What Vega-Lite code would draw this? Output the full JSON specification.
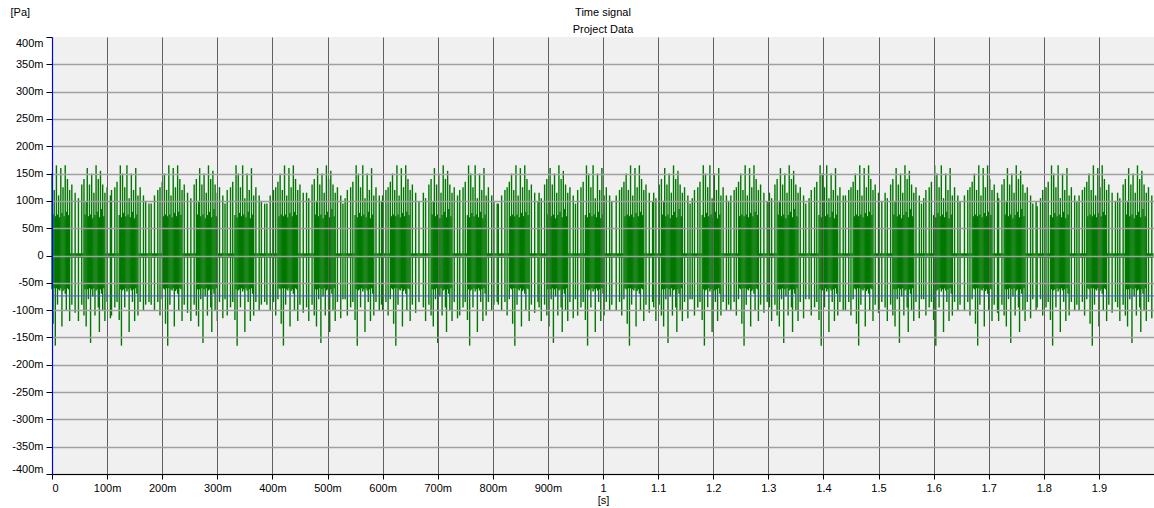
{
  "$schema": "https://vega.github.io/schema/vega-lite/v6.json",
  "width": 1102,
  "height": 437,
  "autosize": {"type": "none"},
  "padding": {"left": 52, "top": 37, "right": 0, "bottom": 34},
  "background": "#ffffff",
  "config": {
    "view": {"fill": "#f0f0f0", "stroke": null},
    "font": "Liberation Sans Narrow, Liberation Sans, sans-serif"
  },
  "title": {
    "text": ["Time signal", "Project Data"],
    "anchor": "middle",
    "frame": "group",
    "fontSize": 11,
    "fontWeight": "normal",
    "color": "#000000",
    "lineHeight": 17,
    "baseline": "bottom",
    "offset": -40
  },
  "resolve": {"axis": {"y": "independent"}},
  "data": {"values": [
{"t":0,"lo":-62,"hi":150},{"t":2,"lo":-125,"hi":75},{"t":4,"lo":-60,"hi":120},{"t":6,"lo":-165,"hi":72},{"t":8,"lo":-60,"hi":165},{"t":10,"lo":-90,"hi":75},{"t":12,"lo":-62,"hi":110},{"t":14,"lo":-64,"hi":70},{"t":16,"lo":-60,"hi":160},{"t":18,"lo":-130,"hi":78},{"t":20,"lo":-65,"hi":125},{"t":22,"lo":-62,"hi":72},{"t":24,"lo":-70,"hi":165},{"t":26,"lo":-100,"hi":80},{"t":28,"lo":-60,"hi":140},{"t":30,"lo":-62,"hi":74},{"t":32,"lo":-120,"hi":120},{"t":34,"lo":-4,"hi":4},{"t":36,"lo":-90,"hi":130},{"t":38,"lo":-4,"hi":4},{"t":40,"lo":-4,"hi":4},{"t":42,"lo":-105,"hi":115},{"t":44,"lo":-4,"hi":4},
{"t":46,"lo":-4,"hi":4},{"t":48,"lo":-120,"hi":105},{"t":50,"lo":-4,"hi":4},{"t":52,"lo":-4,"hi":4},{"t":54,"lo":-90,"hi":130},{"t":56,"lo":-4,"hi":4},{"t":58,"lo":-110,"hi":140},{"t":60,"lo":-62,"hi":75},{"t":62,"lo":-130,"hi":100},{"t":64,"lo":-62,"hi":160},{"t":66,"lo":-80,"hi":72},{"t":68,"lo":-60,"hi":130},{"t":70,"lo":-160,"hi":75},{"t":72,"lo":-62,"hi":150},{"t":74,"lo":-75,"hi":68},{"t":76,"lo":-60,"hi":115},{"t":78,"lo":-110,"hi":74},{"t":80,"lo":-64,"hi":165},{"t":82,"lo":-62,"hi":80},{"t":84,"lo":-95,"hi":140},{"t":86,"lo":-140,"hi":70},{"t":88,"lo":-62,"hi":155},{"t":90,"lo":-70,"hi":85},{"t":92,"lo":-100,"hi":130},{"t":94,"lo":-60,"hi":72},{"t":96,"lo":-120,"hi":115},{"t":98,"lo":-4,"hi":4},{"t":100,"lo":-85,"hi":125},{"t":102,"lo":-4,"hi":4},{"t":104,"lo":-4,"hi":4},{"t":106,"lo":-115,"hi":110},
{"t":108,"lo":-110,"hi":120},{"t":110,"lo":-4,"hi":4},{"t":112,"lo":-4,"hi":4},{"t":114,"lo":-95,"hi":125},{"t":116,"lo":-4,"hi":4},{"t":118,"lo":-85,"hi":135},{"t":120,"lo":-4,"hi":4},{"t":122,"lo":-118,"hi":74},{"t":124,"lo":-62,"hi":165},{"t":126,"lo":-165,"hi":70},{"t":128,"lo":-64,"hi":150},{"t":130,"lo":-62,"hi":78},{"t":132,"lo":-95,"hi":125},{"t":134,"lo":-60,"hi":72},{"t":136,"lo":-66,"hi":165},{"t":138,"lo":-62,"hi":75},{"t":140,"lo":-140,"hi":105},{"t":142,"lo":-60,"hi":70},{"t":144,"lo":-64,"hi":150},{"t":146,"lo":-85,"hi":80},{"t":148,"lo":-62,"hi":120},{"t":150,"lo":-120,"hi":68},{"t":152,"lo":-60,"hi":160},{"t":154,"lo":-70,"hi":75},{"t":156,"lo":-110,"hi":110},{"t":158,"lo":-4,"hi":4},{"t":160,"lo":-85,"hi":125},{"t":162,"lo":-4,"hi":4},{"t":164,"lo":-4,"hi":4},{"t":166,"lo":-100,"hi":110},{"t":168,"lo":-4,"hi":4},{"t":170,"lo":-90,"hi":100},{"t":172,"lo":-4,"hi":4},{"t":174,"lo":-4,"hi":4},{"t":176,"lo":-85,"hi":95},
{"t":178,"lo":-4,"hi":4},{"t":180,"lo":-90,"hi":95},{"t":182,"lo":-4,"hi":4},{"t":184,"lo":-4,"hi":4},{"t":186,"lo":-100,"hi":110},{"t":188,"lo":-4,"hi":4},{"t":190,"lo":-4,"hi":4},{"t":192,"lo":-85,"hi":120},{"t":194,"lo":-4,"hi":4},{"t":196,"lo":-110,"hi":125},{"t":198,"lo":-4,"hi":4},{"t":200,"lo":-80,"hi":135},{"t":202,"lo":-60,"hi":72},{"t":204,"lo":-62,"hi":150},{"t":206,"lo":-125,"hi":75},{"t":208,"lo":-60,"hi":120},{"t":210,"lo":-165,"hi":72},{"t":212,"lo":-60,"hi":165},{"t":214,"lo":-90,"hi":75},{"t":216,"lo":-62,"hi":110},{"t":218,"lo":-64,"hi":70},{"t":220,"lo":-60,"hi":160},{"t":222,"lo":-130,"hi":78},{"t":224,"lo":-65,"hi":125},{"t":226,"lo":-62,"hi":72},{"t":228,"lo":-70,"hi":165},{"t":230,"lo":-100,"hi":80},{"t":232,"lo":-60,"hi":140},{"t":234,"lo":-62,"hi":74},{"t":236,"lo":-120,"hi":120},{"t":238,"lo":-4,"hi":4},{"t":240,"lo":-90,"hi":130},{"t":242,"lo":-4,"hi":4},{"t":244,"lo":-4,"hi":4},{"t":246,"lo":-105,"hi":115},{"t":248,"lo":-4,"hi":4},
{"t":250,"lo":-4,"hi":4},{"t":252,"lo":-120,"hi":105},{"t":254,"lo":-4,"hi":4},{"t":256,"lo":-4,"hi":4},{"t":258,"lo":-90,"hi":130},{"t":260,"lo":-4,"hi":4},{"t":262,"lo":-110,"hi":140},{"t":264,"lo":-62,"hi":75},{"t":266,"lo":-130,"hi":100},{"t":268,"lo":-62,"hi":160},{"t":270,"lo":-80,"hi":72},{"t":272,"lo":-60,"hi":130},{"t":274,"lo":-160,"hi":75},{"t":276,"lo":-62,"hi":150},{"t":278,"lo":-75,"hi":68},{"t":280,"lo":-60,"hi":115},{"t":282,"lo":-110,"hi":74},{"t":284,"lo":-64,"hi":165},{"t":286,"lo":-62,"hi":80},{"t":288,"lo":-95,"hi":140},{"t":290,"lo":-140,"hi":70},{"t":292,"lo":-62,"hi":155},{"t":294,"lo":-70,"hi":85},{"t":296,"lo":-100,"hi":130},{"t":298,"lo":-60,"hi":72},{"t":300,"lo":-120,"hi":115},{"t":302,"lo":-4,"hi":4},{"t":304,"lo":-85,"hi":125},{"t":306,"lo":-4,"hi":4},{"t":308,"lo":-4,"hi":4},{"t":310,"lo":-115,"hi":110},{"t":312,"lo":-4,"hi":4},{"t":314,"lo":-80,"hi":95},
{"t":316,"lo":-4,"hi":4},{"t":318,"lo":-110,"hi":120},{"t":320,"lo":-4,"hi":4},{"t":322,"lo":-4,"hi":4},{"t":324,"lo":-95,"hi":125},{"t":326,"lo":-4,"hi":4},{"t":328,"lo":-85,"hi":135},{"t":330,"lo":-4,"hi":4},{"t":332,"lo":-118,"hi":74},{"t":334,"lo":-62,"hi":165},{"t":336,"lo":-165,"hi":70},{"t":338,"lo":-64,"hi":150},{"t":340,"lo":-62,"hi":78},{"t":342,"lo":-95,"hi":125},{"t":344,"lo":-60,"hi":72},{"t":346,"lo":-66,"hi":165},{"t":348,"lo":-62,"hi":75},{"t":350,"lo":-140,"hi":105},{"t":352,"lo":-60,"hi":70},{"t":354,"lo":-64,"hi":150},{"t":356,"lo":-85,"hi":80},{"t":358,"lo":-62,"hi":120},{"t":360,"lo":-120,"hi":68},{"t":362,"lo":-60,"hi":160},{"t":364,"lo":-70,"hi":75},{"t":366,"lo":-110,"hi":110},{"t":368,"lo":-4,"hi":4},{"t":370,"lo":-85,"hi":125},{"t":372,"lo":-4,"hi":4},{"t":374,"lo":-4,"hi":4},{"t":376,"lo":-100,"hi":110},{"t":378,"lo":-4,"hi":4},{"t":380,"lo":-90,"hi":100},{"t":382,"lo":-4,"hi":4},{"t":384,"lo":-4,"hi":4},{"t":386,"lo":-85,"hi":95},
{"t":388,"lo":-4,"hi":4},{"t":390,"lo":-90,"hi":95},{"t":392,"lo":-4,"hi":4},{"t":394,"lo":-4,"hi":4},{"t":396,"lo":-100,"hi":110},{"t":398,"lo":-4,"hi":4},{"t":400,"lo":-4,"hi":4},{"t":402,"lo":-85,"hi":120},{"t":404,"lo":-4,"hi":4},{"t":406,"lo":-110,"hi":125},{"t":408,"lo":-4,"hi":4},{"t":410,"lo":-80,"hi":135},{"t":412,"lo":-60,"hi":72},{"t":414,"lo":-62,"hi":150},{"t":416,"lo":-125,"hi":75},{"t":418,"lo":-60,"hi":120},{"t":420,"lo":-165,"hi":72},{"t":422,"lo":-60,"hi":165},{"t":424,"lo":-90,"hi":75},{"t":426,"lo":-62,"hi":110},{"t":428,"lo":-64,"hi":70},{"t":430,"lo":-60,"hi":160},{"t":432,"lo":-130,"hi":78},{"t":434,"lo":-65,"hi":125},{"t":436,"lo":-62,"hi":72},{"t":438,"lo":-70,"hi":165},{"t":440,"lo":-100,"hi":80},{"t":442,"lo":-60,"hi":140},{"t":444,"lo":-62,"hi":74},{"t":446,"lo":-120,"hi":120},{"t":448,"lo":-4,"hi":4},{"t":450,"lo":-90,"hi":130},{"t":452,"lo":-4,"hi":4},{"t":454,"lo":-4,"hi":4},{"t":456,"lo":-105,"hi":115},{"t":458,"lo":-4,"hi":4},{"t":460,"lo":-4,"hi":4},
{"t":462,"lo":-95,"hi":115},{"t":464,"lo":-4,"hi":4},{"t":466,"lo":-120,"hi":105},{"t":468,"lo":-4,"hi":4},{"t":470,"lo":-4,"hi":4},{"t":472,"lo":-90,"hi":130},{"t":474,"lo":-4,"hi":4},{"t":476,"lo":-110,"hi":140},{"t":478,"lo":-62,"hi":75},{"t":480,"lo":-130,"hi":100},{"t":482,"lo":-62,"hi":160},{"t":484,"lo":-80,"hi":72},{"t":486,"lo":-60,"hi":130},{"t":488,"lo":-160,"hi":75},{"t":490,"lo":-62,"hi":150},{"t":492,"lo":-75,"hi":68},{"t":494,"lo":-60,"hi":115},{"t":496,"lo":-110,"hi":74},{"t":498,"lo":-64,"hi":165},{"t":500,"lo":-62,"hi":80},{"t":502,"lo":-95,"hi":140},{"t":504,"lo":-140,"hi":70},{"t":506,"lo":-62,"hi":155},{"t":508,"lo":-70,"hi":85},{"t":510,"lo":-100,"hi":130},{"t":512,"lo":-60,"hi":72},{"t":514,"lo":-120,"hi":115},{"t":516,"lo":-4,"hi":4},{"t":518,"lo":-85,"hi":125},{"t":520,"lo":-4,"hi":4},{"t":522,"lo":-4,"hi":4},{"t":524,"lo":-115,"hi":110},{"t":526,"lo":-4,"hi":4},{"t":528,"lo":-80,"hi":95},{"t":530,"lo":-4,"hi":4},
{"t":532,"lo":-80,"hi":105},{"t":534,"lo":-4,"hi":4},{"t":536,"lo":-110,"hi":120},{"t":538,"lo":-4,"hi":4},{"t":540,"lo":-4,"hi":4},{"t":542,"lo":-95,"hi":125},{"t":544,"lo":-4,"hi":4},{"t":546,"lo":-85,"hi":135},{"t":548,"lo":-4,"hi":4},{"t":550,"lo":-118,"hi":74},{"t":552,"lo":-62,"hi":165},{"t":554,"lo":-165,"hi":70},{"t":556,"lo":-64,"hi":150},{"t":558,"lo":-62,"hi":78},{"t":560,"lo":-95,"hi":125},{"t":562,"lo":-60,"hi":72},{"t":564,"lo":-66,"hi":165},{"t":566,"lo":-62,"hi":75},{"t":568,"lo":-140,"hi":105},{"t":570,"lo":-60,"hi":70},{"t":572,"lo":-64,"hi":150},{"t":574,"lo":-85,"hi":80},{"t":576,"lo":-62,"hi":120},{"t":578,"lo":-120,"hi":68},{"t":580,"lo":-60,"hi":160},{"t":582,"lo":-70,"hi":75},{"t":584,"lo":-110,"hi":110},{"t":586,"lo":-4,"hi":4},{"t":588,"lo":-85,"hi":125},{"t":590,"lo":-4,"hi":4},{"t":592,"lo":-4,"hi":4},{"t":594,"lo":-100,"hi":110},{"t":596,"lo":-4,"hi":4},{"t":598,"lo":-90,"hi":100},
{"t":600,"lo":-100,"hi":110},{"t":602,"lo":-4,"hi":4},{"t":604,"lo":-4,"hi":4},{"t":606,"lo":-85,"hi":120},{"t":608,"lo":-4,"hi":4},{"t":610,"lo":-110,"hi":125},{"t":612,"lo":-4,"hi":4},{"t":614,"lo":-80,"hi":135},{"t":616,"lo":-60,"hi":72},{"t":618,"lo":-62,"hi":150},{"t":620,"lo":-125,"hi":75},{"t":622,"lo":-60,"hi":120},{"t":624,"lo":-165,"hi":72},{"t":626,"lo":-60,"hi":165},{"t":628,"lo":-90,"hi":75},{"t":630,"lo":-62,"hi":110},{"t":632,"lo":-64,"hi":70},{"t":634,"lo":-60,"hi":160},{"t":636,"lo":-130,"hi":78},{"t":638,"lo":-65,"hi":125},{"t":640,"lo":-62,"hi":72},{"t":642,"lo":-70,"hi":165},{"t":644,"lo":-100,"hi":80},{"t":646,"lo":-60,"hi":140},{"t":648,"lo":-62,"hi":74},{"t":650,"lo":-120,"hi":120},{"t":652,"lo":-4,"hi":4},{"t":654,"lo":-90,"hi":130},{"t":656,"lo":-4,"hi":4},{"t":658,"lo":-4,"hi":4},{"t":660,"lo":-105,"hi":115},{"t":662,"lo":-4,"hi":4},{"t":664,"lo":-4,"hi":4},{"t":666,"lo":-85,"hi":100},{"t":668,"lo":-4,"hi":4},
{"t":670,"lo":-4,"hi":4},{"t":672,"lo":-4,"hi":4},{"t":674,"lo":-95,"hi":115},{"t":676,"lo":-4,"hi":4},{"t":678,"lo":-120,"hi":105},{"t":680,"lo":-4,"hi":4},{"t":682,"lo":-4,"hi":4},{"t":684,"lo":-90,"hi":130},{"t":686,"lo":-4,"hi":4},{"t":688,"lo":-110,"hi":140},{"t":690,"lo":-62,"hi":75},{"t":692,"lo":-130,"hi":100},{"t":694,"lo":-62,"hi":160},{"t":696,"lo":-80,"hi":72},{"t":698,"lo":-60,"hi":130},{"t":700,"lo":-160,"hi":75},{"t":702,"lo":-62,"hi":150},{"t":704,"lo":-75,"hi":68},{"t":706,"lo":-60,"hi":115},{"t":708,"lo":-110,"hi":74},{"t":710,"lo":-64,"hi":165},{"t":712,"lo":-62,"hi":80},{"t":714,"lo":-95,"hi":140},{"t":716,"lo":-140,"hi":70},{"t":718,"lo":-62,"hi":155},{"t":720,"lo":-70,"hi":85},{"t":722,"lo":-100,"hi":130},{"t":724,"lo":-60,"hi":72},{"t":726,"lo":-120,"hi":115},{"t":728,"lo":-4,"hi":4},{"t":730,"lo":-85,"hi":125},{"t":732,"lo":-4,"hi":4},{"t":734,"lo":-4,"hi":4},{"t":736,"lo":-115,"hi":110},{"t":738,"lo":-4,"hi":4},
{"t":740,"lo":-110,"hi":120},{"t":742,"lo":-4,"hi":4},{"t":744,"lo":-4,"hi":4},{"t":746,"lo":-95,"hi":125},{"t":748,"lo":-4,"hi":4},{"t":750,"lo":-85,"hi":135},{"t":752,"lo":-4,"hi":4},{"t":754,"lo":-118,"hi":74},{"t":756,"lo":-62,"hi":165},{"t":758,"lo":-165,"hi":70},{"t":760,"lo":-64,"hi":150},{"t":762,"lo":-62,"hi":78},{"t":764,"lo":-95,"hi":125},{"t":766,"lo":-60,"hi":72},{"t":768,"lo":-66,"hi":165},{"t":770,"lo":-62,"hi":75},{"t":772,"lo":-140,"hi":105},{"t":774,"lo":-60,"hi":70},{"t":776,"lo":-64,"hi":150},{"t":778,"lo":-85,"hi":80},{"t":780,"lo":-62,"hi":120},{"t":782,"lo":-120,"hi":68},{"t":784,"lo":-60,"hi":160},{"t":786,"lo":-70,"hi":75},{"t":788,"lo":-110,"hi":110},{"t":790,"lo":-4,"hi":4},{"t":792,"lo":-85,"hi":125},{"t":794,"lo":-4,"hi":4},{"t":796,"lo":-4,"hi":4},{"t":798,"lo":-100,"hi":110},{"t":800,"lo":-4,"hi":4},{"t":802,"lo":-90,"hi":100},{"t":804,"lo":-4,"hi":4},{"t":806,"lo":-4,"hi":4},{"t":808,"lo":-85,"hi":95},
{"t":810,"lo":-90,"hi":95},{"t":812,"lo":-4,"hi":4},{"t":814,"lo":-4,"hi":4},{"t":816,"lo":-100,"hi":110},{"t":818,"lo":-4,"hi":4},{"t":820,"lo":-4,"hi":4},{"t":822,"lo":-85,"hi":120},{"t":824,"lo":-4,"hi":4},{"t":826,"lo":-110,"hi":125},{"t":828,"lo":-4,"hi":4},{"t":830,"lo":-80,"hi":135},{"t":832,"lo":-60,"hi":72},{"t":834,"lo":-62,"hi":150},{"t":836,"lo":-125,"hi":75},{"t":838,"lo":-60,"hi":120},{"t":840,"lo":-165,"hi":72},{"t":842,"lo":-60,"hi":165},{"t":844,"lo":-90,"hi":75},{"t":846,"lo":-62,"hi":110},{"t":848,"lo":-64,"hi":70},{"t":850,"lo":-60,"hi":160},{"t":852,"lo":-130,"hi":78},{"t":854,"lo":-65,"hi":125},{"t":856,"lo":-62,"hi":72},{"t":858,"lo":-70,"hi":165},{"t":860,"lo":-100,"hi":80},{"t":862,"lo":-60,"hi":140},{"t":864,"lo":-62,"hi":74},{"t":866,"lo":-120,"hi":120},{"t":868,"lo":-4,"hi":4},{"t":870,"lo":-90,"hi":130},{"t":872,"lo":-4,"hi":4},{"t":874,"lo":-4,"hi":4},{"t":876,"lo":-105,"hi":115},{"t":878,"lo":-4,"hi":4},{"t":880,"lo":-4,"hi":4},{"t":882,"lo":-85,"hi":100},
{"t":884,"lo":-95,"hi":115},{"t":886,"lo":-4,"hi":4},{"t":888,"lo":-120,"hi":105},{"t":890,"lo":-4,"hi":4},{"t":892,"lo":-4,"hi":4},{"t":894,"lo":-90,"hi":130},{"t":896,"lo":-4,"hi":4},{"t":898,"lo":-110,"hi":140},{"t":900,"lo":-62,"hi":75},{"t":902,"lo":-130,"hi":100},{"t":904,"lo":-62,"hi":160},{"t":906,"lo":-80,"hi":72},{"t":908,"lo":-60,"hi":130},{"t":910,"lo":-160,"hi":75},{"t":912,"lo":-62,"hi":150},{"t":914,"lo":-75,"hi":68},{"t":916,"lo":-60,"hi":115},{"t":918,"lo":-110,"hi":74},{"t":920,"lo":-64,"hi":165},{"t":922,"lo":-62,"hi":80},{"t":924,"lo":-95,"hi":140},{"t":926,"lo":-140,"hi":70},{"t":928,"lo":-62,"hi":155},{"t":930,"lo":-70,"hi":85},{"t":932,"lo":-100,"hi":130},{"t":934,"lo":-60,"hi":72},{"t":936,"lo":-120,"hi":115},{"t":938,"lo":-4,"hi":4},{"t":940,"lo":-85,"hi":125},{"t":942,"lo":-4,"hi":4},{"t":944,"lo":-4,"hi":4},{"t":946,"lo":-115,"hi":110},{"t":948,"lo":-4,"hi":4},{"t":950,"lo":-80,"hi":95},
{"t":952,"lo":-4,"hi":4},{"t":954,"lo":-110,"hi":120},{"t":956,"lo":-4,"hi":4},{"t":958,"lo":-4,"hi":4},{"t":960,"lo":-95,"hi":125},{"t":962,"lo":-4,"hi":4},{"t":964,"lo":-85,"hi":135},{"t":966,"lo":-4,"hi":4},{"t":968,"lo":-118,"hi":74},{"t":970,"lo":-62,"hi":165},{"t":972,"lo":-165,"hi":70},{"t":974,"lo":-64,"hi":150},{"t":976,"lo":-62,"hi":78},{"t":978,"lo":-95,"hi":125},{"t":980,"lo":-60,"hi":72},{"t":982,"lo":-66,"hi":165},{"t":984,"lo":-62,"hi":75},{"t":986,"lo":-140,"hi":105},{"t":988,"lo":-60,"hi":70},{"t":990,"lo":-64,"hi":150},{"t":992,"lo":-85,"hi":80},{"t":994,"lo":-62,"hi":120},{"t":996,"lo":-120,"hi":68},{"t":998,"lo":-60,"hi":160},{"t":1000,"lo":-70,"hi":75},{"t":1002,"lo":-110,"hi":110},{"t":1004,"lo":-4,"hi":4},{"t":1006,"lo":-85,"hi":125},{"t":1008,"lo":-4,"hi":4},{"t":1010,"lo":-4,"hi":4},{"t":1012,"lo":-100,"hi":110},{"t":1014,"lo":-4,"hi":4},{"t":1016,"lo":-90,"hi":100},{"t":1018,"lo":-4,"hi":4},
{"t":1020,"lo":-4,"hi":4},{"t":1022,"lo":-4,"hi":4},{"t":1024,"lo":-100,"hi":110},{"t":1026,"lo":-4,"hi":4},{"t":1028,"lo":-4,"hi":4},{"t":1030,"lo":-85,"hi":120},{"t":1032,"lo":-4,"hi":4},{"t":1034,"lo":-110,"hi":125},{"t":1036,"lo":-4,"hi":4},{"t":1038,"lo":-80,"hi":135},{"t":1040,"lo":-60,"hi":72},{"t":1042,"lo":-62,"hi":150},{"t":1044,"lo":-125,"hi":75},{"t":1046,"lo":-60,"hi":120},{"t":1048,"lo":-165,"hi":72},{"t":1050,"lo":-60,"hi":165},{"t":1052,"lo":-90,"hi":75},{"t":1054,"lo":-62,"hi":110},{"t":1056,"lo":-64,"hi":70},{"t":1058,"lo":-60,"hi":160},{"t":1060,"lo":-130,"hi":78},{"t":1062,"lo":-65,"hi":125},{"t":1064,"lo":-62,"hi":72},{"t":1066,"lo":-70,"hi":165},{"t":1068,"lo":-100,"hi":80},{"t":1070,"lo":-60,"hi":140},{"t":1072,"lo":-62,"hi":74},{"t":1074,"lo":-120,"hi":120},{"t":1076,"lo":-4,"hi":4},{"t":1078,"lo":-90,"hi":130},{"t":1080,"lo":-4,"hi":4},{"t":1082,"lo":-4,"hi":4},{"t":1084,"lo":-105,"hi":115},{"t":1086,"lo":-4,"hi":4},{"t":1088,"lo":-4,"hi":4},{"t":1090,"lo":-85,"hi":100},
{"t":1092,"lo":-95,"hi":115},{"t":1094,"lo":-4,"hi":4},{"t":1096,"lo":-120,"hi":105},{"t":1098,"lo":-4,"hi":4},{"t":1100,"lo":-4,"hi":4},{"t":1102,"lo":-90,"hi":130},{"t":1104,"lo":-4,"hi":4},{"t":1106,"lo":-110,"hi":140},{"t":1108,"lo":-62,"hi":75},{"t":1110,"lo":-130,"hi":100},{"t":1112,"lo":-62,"hi":160},{"t":1114,"lo":-80,"hi":72},{"t":1116,"lo":-60,"hi":130},{"t":1118,"lo":-160,"hi":75},{"t":1120,"lo":-62,"hi":150},{"t":1122,"lo":-75,"hi":68},{"t":1124,"lo":-60,"hi":115},{"t":1126,"lo":-110,"hi":74},{"t":1128,"lo":-64,"hi":165},{"t":1130,"lo":-62,"hi":80},{"t":1132,"lo":-95,"hi":140},{"t":1134,"lo":-140,"hi":70},{"t":1136,"lo":-62,"hi":155},{"t":1138,"lo":-70,"hi":85},{"t":1140,"lo":-100,"hi":130},{"t":1142,"lo":-60,"hi":72},{"t":1144,"lo":-120,"hi":115},{"t":1146,"lo":-4,"hi":4},{"t":1148,"lo":-85,"hi":125},{"t":1150,"lo":-4,"hi":4},{"t":1152,"lo":-4,"hi":4},{"t":1154,"lo":-115,"hi":110},{"t":1156,"lo":-4,"hi":4},{"t":1158,"lo":-80,"hi":95},{"t":1160,"lo":-4,"hi":4},
{"t":1162,"lo":-80,"hi":105},{"t":1164,"lo":-4,"hi":4},{"t":1166,"lo":-110,"hi":120},{"t":1168,"lo":-4,"hi":4},{"t":1170,"lo":-4,"hi":4},{"t":1172,"lo":-95,"hi":125},{"t":1174,"lo":-4,"hi":4},{"t":1176,"lo":-85,"hi":135},{"t":1178,"lo":-4,"hi":4},{"t":1180,"lo":-118,"hi":74},{"t":1182,"lo":-62,"hi":165},{"t":1184,"lo":-165,"hi":70},{"t":1186,"lo":-64,"hi":150},{"t":1188,"lo":-62,"hi":78},{"t":1190,"lo":-95,"hi":125},{"t":1192,"lo":-60,"hi":72},{"t":1194,"lo":-66,"hi":165},{"t":1196,"lo":-62,"hi":75},{"t":1198,"lo":-140,"hi":105},{"t":1200,"lo":-60,"hi":70},{"t":1202,"lo":-64,"hi":150},{"t":1204,"lo":-85,"hi":80},{"t":1206,"lo":-62,"hi":120},{"t":1208,"lo":-120,"hi":68},{"t":1210,"lo":-60,"hi":160},{"t":1212,"lo":-70,"hi":75},{"t":1214,"lo":-110,"hi":110},{"t":1216,"lo":-4,"hi":4},{"t":1218,"lo":-85,"hi":125},{"t":1220,"lo":-4,"hi":4},{"t":1222,"lo":-4,"hi":4},{"t":1224,"lo":-100,"hi":110},{"t":1226,"lo":-4,"hi":4},{"t":1228,"lo":-90,"hi":100},
{"t":1230,"lo":-4,"hi":4},{"t":1232,"lo":-100,"hi":110},{"t":1234,"lo":-4,"hi":4},{"t":1236,"lo":-4,"hi":4},{"t":1238,"lo":-85,"hi":120},{"t":1240,"lo":-4,"hi":4},{"t":1242,"lo":-110,"hi":125},{"t":1244,"lo":-4,"hi":4},{"t":1246,"lo":-80,"hi":135},{"t":1248,"lo":-60,"hi":72},{"t":1250,"lo":-62,"hi":150},{"t":1252,"lo":-125,"hi":75},{"t":1254,"lo":-60,"hi":120},{"t":1256,"lo":-165,"hi":72},{"t":1258,"lo":-60,"hi":165},{"t":1260,"lo":-90,"hi":75},{"t":1262,"lo":-62,"hi":110},{"t":1264,"lo":-64,"hi":70},{"t":1266,"lo":-60,"hi":160},{"t":1268,"lo":-130,"hi":78},{"t":1270,"lo":-65,"hi":125},{"t":1272,"lo":-62,"hi":72},{"t":1274,"lo":-70,"hi":165},{"t":1276,"lo":-100,"hi":80},{"t":1278,"lo":-60,"hi":140},{"t":1280,"lo":-62,"hi":74},{"t":1282,"lo":-120,"hi":120},{"t":1284,"lo":-4,"hi":4},{"t":1286,"lo":-90,"hi":130},{"t":1288,"lo":-4,"hi":4},{"t":1290,"lo":-4,"hi":4},{"t":1292,"lo":-105,"hi":115},{"t":1294,"lo":-4,"hi":4},{"t":1296,"lo":-4,"hi":4},{"t":1298,"lo":-85,"hi":100},
{"t":1300,"lo":-4,"hi":4},{"t":1302,"lo":-95,"hi":115},{"t":1304,"lo":-4,"hi":4},{"t":1306,"lo":-120,"hi":105},{"t":1308,"lo":-4,"hi":4},{"t":1310,"lo":-4,"hi":4},{"t":1312,"lo":-90,"hi":130},{"t":1314,"lo":-4,"hi":4},{"t":1316,"lo":-110,"hi":140},{"t":1318,"lo":-62,"hi":75},{"t":1320,"lo":-130,"hi":100},{"t":1322,"lo":-62,"hi":160},{"t":1324,"lo":-80,"hi":72},{"t":1326,"lo":-60,"hi":130},{"t":1328,"lo":-160,"hi":75},{"t":1330,"lo":-62,"hi":150},{"t":1332,"lo":-75,"hi":68},{"t":1334,"lo":-60,"hi":115},{"t":1336,"lo":-110,"hi":74},{"t":1338,"lo":-64,"hi":165},{"t":1340,"lo":-62,"hi":80},{"t":1342,"lo":-95,"hi":140},{"t":1344,"lo":-140,"hi":70},{"t":1346,"lo":-62,"hi":155},{"t":1348,"lo":-70,"hi":85},{"t":1350,"lo":-100,"hi":130},{"t":1352,"lo":-60,"hi":72},{"t":1354,"lo":-120,"hi":115},{"t":1356,"lo":-4,"hi":4},{"t":1358,"lo":-85,"hi":125},{"t":1360,"lo":-4,"hi":4},{"t":1362,"lo":-4,"hi":4},{"t":1364,"lo":-115,"hi":110},{"t":1366,"lo":-4,"hi":4},{"t":1368,"lo":-80,"hi":95},{"t":1370,"lo":-4,"hi":4},
{"t":1372,"lo":-4,"hi":4},{"t":1374,"lo":-80,"hi":105},{"t":1376,"lo":-4,"hi":4},{"t":1378,"lo":-110,"hi":120},{"t":1380,"lo":-4,"hi":4},{"t":1382,"lo":-4,"hi":4},{"t":1384,"lo":-95,"hi":125},{"t":1386,"lo":-4,"hi":4},{"t":1388,"lo":-85,"hi":135},{"t":1390,"lo":-4,"hi":4},{"t":1392,"lo":-118,"hi":74},{"t":1394,"lo":-62,"hi":165},{"t":1396,"lo":-165,"hi":70},{"t":1398,"lo":-64,"hi":150},{"t":1400,"lo":-62,"hi":78},{"t":1402,"lo":-95,"hi":125},{"t":1404,"lo":-60,"hi":72},{"t":1406,"lo":-66,"hi":165},{"t":1408,"lo":-62,"hi":75},{"t":1410,"lo":-140,"hi":105},{"t":1412,"lo":-60,"hi":70},{"t":1414,"lo":-64,"hi":150},{"t":1416,"lo":-85,"hi":80},{"t":1418,"lo":-62,"hi":120},{"t":1420,"lo":-120,"hi":68},{"t":1422,"lo":-60,"hi":160},{"t":1424,"lo":-70,"hi":75},{"t":1426,"lo":-110,"hi":110},{"t":1428,"lo":-4,"hi":4},{"t":1430,"lo":-85,"hi":125},{"t":1432,"lo":-4,"hi":4},{"t":1434,"lo":-4,"hi":4},{"t":1436,"lo":-100,"hi":110},{"t":1438,"lo":-4,"hi":4},
{"t":1440,"lo":-100,"hi":110},{"t":1442,"lo":-4,"hi":4},{"t":1444,"lo":-4,"hi":4},{"t":1446,"lo":-85,"hi":120},{"t":1448,"lo":-4,"hi":4},{"t":1450,"lo":-110,"hi":125},{"t":1452,"lo":-4,"hi":4},{"t":1454,"lo":-80,"hi":135},{"t":1456,"lo":-60,"hi":72},{"t":1458,"lo":-62,"hi":150},{"t":1460,"lo":-125,"hi":75},{"t":1462,"lo":-60,"hi":120},{"t":1464,"lo":-165,"hi":72},{"t":1466,"lo":-60,"hi":165},{"t":1468,"lo":-90,"hi":75},{"t":1470,"lo":-62,"hi":110},{"t":1472,"lo":-64,"hi":70},{"t":1474,"lo":-60,"hi":160},{"t":1476,"lo":-130,"hi":78},{"t":1478,"lo":-65,"hi":125},{"t":1480,"lo":-62,"hi":72},{"t":1482,"lo":-70,"hi":165},{"t":1484,"lo":-100,"hi":80},{"t":1486,"lo":-60,"hi":140},{"t":1488,"lo":-62,"hi":74},{"t":1490,"lo":-120,"hi":120},{"t":1492,"lo":-4,"hi":4},{"t":1494,"lo":-90,"hi":130},{"t":1496,"lo":-4,"hi":4},{"t":1498,"lo":-4,"hi":4},{"t":1500,"lo":-105,"hi":115},{"t":1502,"lo":-4,"hi":4},{"t":1504,"lo":-4,"hi":4},{"t":1506,"lo":-85,"hi":100},{"t":1508,"lo":-4,"hi":4},
{"t":1510,"lo":-4,"hi":4},{"t":1512,"lo":-95,"hi":115},{"t":1514,"lo":-4,"hi":4},{"t":1516,"lo":-120,"hi":105},{"t":1518,"lo":-4,"hi":4},{"t":1520,"lo":-4,"hi":4},{"t":1522,"lo":-90,"hi":130},{"t":1524,"lo":-4,"hi":4},{"t":1526,"lo":-110,"hi":140},{"t":1528,"lo":-62,"hi":75},{"t":1530,"lo":-130,"hi":100},{"t":1532,"lo":-62,"hi":160},{"t":1534,"lo":-80,"hi":72},{"t":1536,"lo":-60,"hi":130},{"t":1538,"lo":-160,"hi":75},{"t":1540,"lo":-62,"hi":150},{"t":1542,"lo":-75,"hi":68},{"t":1544,"lo":-60,"hi":115},{"t":1546,"lo":-110,"hi":74},{"t":1548,"lo":-64,"hi":165},{"t":1550,"lo":-62,"hi":80},{"t":1552,"lo":-95,"hi":140},{"t":1554,"lo":-140,"hi":70},{"t":1556,"lo":-62,"hi":155},{"t":1558,"lo":-70,"hi":85},{"t":1560,"lo":-100,"hi":130},{"t":1562,"lo":-60,"hi":72},{"t":1564,"lo":-120,"hi":115},{"t":1566,"lo":-4,"hi":4},{"t":1568,"lo":-85,"hi":125},{"t":1570,"lo":-4,"hi":4},{"t":1572,"lo":-4,"hi":4},{"t":1574,"lo":-115,"hi":110},{"t":1576,"lo":-4,"hi":4},{"t":1578,"lo":-80,"hi":95},{"t":1580,"lo":-4,"hi":4},
{"t":1582,"lo":-80,"hi":105},{"t":1584,"lo":-4,"hi":4},{"t":1586,"lo":-110,"hi":120},{"t":1588,"lo":-4,"hi":4},{"t":1590,"lo":-4,"hi":4},{"t":1592,"lo":-95,"hi":125},{"t":1594,"lo":-4,"hi":4},{"t":1596,"lo":-85,"hi":135},{"t":1598,"lo":-4,"hi":4},{"t":1600,"lo":-118,"hi":74},{"t":1602,"lo":-62,"hi":165},{"t":1604,"lo":-165,"hi":70},{"t":1606,"lo":-64,"hi":150},{"t":1608,"lo":-62,"hi":78},{"t":1610,"lo":-95,"hi":125},{"t":1612,"lo":-60,"hi":72},{"t":1614,"lo":-66,"hi":165},{"t":1616,"lo":-62,"hi":75},{"t":1618,"lo":-140,"hi":105},{"t":1620,"lo":-60,"hi":70},{"t":1622,"lo":-64,"hi":150},{"t":1624,"lo":-85,"hi":80},{"t":1626,"lo":-62,"hi":120},{"t":1628,"lo":-120,"hi":68},{"t":1630,"lo":-60,"hi":160},{"t":1632,"lo":-70,"hi":75},{"t":1634,"lo":-110,"hi":110},{"t":1636,"lo":-4,"hi":4},{"t":1638,"lo":-85,"hi":125},{"t":1640,"lo":-4,"hi":4},{"t":1642,"lo":-4,"hi":4},{"t":1644,"lo":-100,"hi":110},{"t":1646,"lo":-4,"hi":4},{"t":1648,"lo":-90,"hi":100},{"t":1650,"lo":-4,"hi":4},
{"t":1652,"lo":-4,"hi":4},{"t":1654,"lo":-4,"hi":4},{"t":1656,"lo":-100,"hi":110},{"t":1658,"lo":-4,"hi":4},{"t":1660,"lo":-4,"hi":4},{"t":1662,"lo":-85,"hi":120},{"t":1664,"lo":-4,"hi":4},{"t":1666,"lo":-110,"hi":125},{"t":1668,"lo":-4,"hi":4},{"t":1670,"lo":-80,"hi":135},{"t":1672,"lo":-60,"hi":72},{"t":1674,"lo":-62,"hi":150},{"t":1676,"lo":-125,"hi":75},{"t":1678,"lo":-60,"hi":120},{"t":1680,"lo":-165,"hi":72},{"t":1682,"lo":-60,"hi":165},{"t":1684,"lo":-90,"hi":75},{"t":1686,"lo":-62,"hi":110},{"t":1688,"lo":-64,"hi":70},{"t":1690,"lo":-60,"hi":160},{"t":1692,"lo":-130,"hi":78},{"t":1694,"lo":-65,"hi":125},{"t":1696,"lo":-62,"hi":72},{"t":1698,"lo":-70,"hi":165},{"t":1700,"lo":-100,"hi":80},{"t":1702,"lo":-60,"hi":140},{"t":1704,"lo":-62,"hi":74},{"t":1706,"lo":-120,"hi":120},{"t":1708,"lo":-4,"hi":4},{"t":1710,"lo":-90,"hi":130},{"t":1712,"lo":-4,"hi":4},{"t":1714,"lo":-4,"hi":4},{"t":1716,"lo":-105,"hi":115},
{"t":1718,"lo":-120,"hi":105},{"t":1720,"lo":-4,"hi":4},{"t":1722,"lo":-4,"hi":4},{"t":1724,"lo":-90,"hi":130},{"t":1726,"lo":-4,"hi":4},{"t":1728,"lo":-110,"hi":140},{"t":1730,"lo":-62,"hi":75},{"t":1732,"lo":-130,"hi":100},{"t":1734,"lo":-62,"hi":160},{"t":1736,"lo":-80,"hi":72},{"t":1738,"lo":-60,"hi":130},{"t":1740,"lo":-160,"hi":75},{"t":1742,"lo":-62,"hi":150},{"t":1744,"lo":-75,"hi":68},{"t":1746,"lo":-60,"hi":115},{"t":1748,"lo":-110,"hi":74},{"t":1750,"lo":-64,"hi":165},{"t":1752,"lo":-62,"hi":80},{"t":1754,"lo":-95,"hi":140},{"t":1756,"lo":-140,"hi":70},{"t":1758,"lo":-62,"hi":155},{"t":1760,"lo":-70,"hi":85},{"t":1762,"lo":-100,"hi":130},{"t":1764,"lo":-60,"hi":72},{"t":1766,"lo":-120,"hi":115},{"t":1768,"lo":-4,"hi":4},{"t":1770,"lo":-85,"hi":125},{"t":1772,"lo":-4,"hi":4},{"t":1774,"lo":-4,"hi":4},{"t":1776,"lo":-115,"hi":110},{"t":1778,"lo":-4,"hi":4},{"t":1780,"lo":-80,"hi":95},{"t":1782,"lo":-4,"hi":4},{"t":1784,"lo":-4,"hi":4},{"t":1786,"lo":-100,"hi":100},
{"t":1788,"lo":-95,"hi":90},{"t":1790,"lo":-4,"hi":4},{"t":1792,"lo":-4,"hi":4},{"t":1794,"lo":-80,"hi":105},{"t":1796,"lo":-4,"hi":4},{"t":1798,"lo":-110,"hi":120},{"t":1800,"lo":-4,"hi":4},{"t":1802,"lo":-4,"hi":4},{"t":1804,"lo":-95,"hi":125},{"t":1806,"lo":-4,"hi":4},{"t":1808,"lo":-85,"hi":135},{"t":1810,"lo":-4,"hi":4},{"t":1812,"lo":-118,"hi":74},{"t":1814,"lo":-62,"hi":165},{"t":1816,"lo":-165,"hi":70},{"t":1818,"lo":-64,"hi":150},{"t":1820,"lo":-62,"hi":78},{"t":1822,"lo":-95,"hi":125},{"t":1824,"lo":-60,"hi":72},{"t":1826,"lo":-66,"hi":165},{"t":1828,"lo":-62,"hi":75},{"t":1830,"lo":-140,"hi":105},{"t":1832,"lo":-60,"hi":70},{"t":1834,"lo":-64,"hi":150},{"t":1836,"lo":-85,"hi":80},{"t":1838,"lo":-62,"hi":120},{"t":1840,"lo":-120,"hi":68},{"t":1842,"lo":-60,"hi":160},{"t":1844,"lo":-70,"hi":75},{"t":1846,"lo":-110,"hi":110},{"t":1848,"lo":-4,"hi":4},{"t":1850,"lo":-85,"hi":125},{"t":1852,"lo":-4,"hi":4},{"t":1854,"lo":-4,"hi":4},{"t":1856,"lo":-100,"hi":110},{"t":1858,"lo":-4,"hi":4},{"t":1860,"lo":-90,"hi":100},
{"t":1862,"lo":-4,"hi":4},{"t":1864,"lo":-100,"hi":110},{"t":1866,"lo":-4,"hi":4},{"t":1868,"lo":-4,"hi":4},{"t":1870,"lo":-85,"hi":120},{"t":1872,"lo":-4,"hi":4},{"t":1874,"lo":-110,"hi":125},{"t":1876,"lo":-4,"hi":4},{"t":1878,"lo":-80,"hi":135},{"t":1880,"lo":-60,"hi":72},{"t":1882,"lo":-62,"hi":150},{"t":1884,"lo":-125,"hi":75},{"t":1886,"lo":-60,"hi":120},{"t":1888,"lo":-165,"hi":72},{"t":1890,"lo":-60,"hi":165},{"t":1892,"lo":-90,"hi":75},{"t":1894,"lo":-62,"hi":110},{"t":1896,"lo":-64,"hi":70},{"t":1898,"lo":-60,"hi":160},{"t":1900,"lo":-130,"hi":78},{"t":1902,"lo":-65,"hi":125},{"t":1904,"lo":-62,"hi":72},{"t":1906,"lo":-70,"hi":165},{"t":1908,"lo":-100,"hi":80},{"t":1910,"lo":-60,"hi":140},{"t":1912,"lo":-62,"hi":74},{"t":1914,"lo":-120,"hi":120},{"t":1916,"lo":-4,"hi":4},{"t":1918,"lo":-90,"hi":130},{"t":1920,"lo":-4,"hi":4},{"t":1922,"lo":-4,"hi":4},{"t":1924,"lo":-105,"hi":115},{"t":1926,"lo":-4,"hi":4},{"t":1928,"lo":-4,"hi":4},{"t":1930,"lo":-85,"hi":100},
{"t":1932,"lo":-4,"hi":4},{"t":1934,"lo":-95,"hi":115},{"t":1936,"lo":-4,"hi":4},{"t":1938,"lo":-120,"hi":105},{"t":1940,"lo":-4,"hi":4},{"t":1942,"lo":-4,"hi":4},{"t":1944,"lo":-90,"hi":130},{"t":1946,"lo":-4,"hi":4},{"t":1948,"lo":-110,"hi":140},{"t":1950,"lo":-62,"hi":75},{"t":1952,"lo":-130,"hi":100},{"t":1954,"lo":-62,"hi":160},{"t":1956,"lo":-80,"hi":72},{"t":1958,"lo":-60,"hi":130},{"t":1960,"lo":-160,"hi":75},{"t":1962,"lo":-62,"hi":150},{"t":1964,"lo":-75,"hi":68},{"t":1966,"lo":-60,"hi":115},{"t":1968,"lo":-110,"hi":74},{"t":1970,"lo":-64,"hi":165},{"t":1972,"lo":-62,"hi":80},{"t":1974,"lo":-95,"hi":140},{"t":1976,"lo":-140,"hi":70},{"t":1978,"lo":-62,"hi":155},{"t":1980,"lo":-70,"hi":85},{"t":1982,"lo":-100,"hi":130},{"t":1984,"lo":-60,"hi":72},{"t":1986,"lo":-120,"hi":115},{"t":1988,"lo":-4,"hi":4},{"t":1990,"lo":-85,"hi":125},{"t":1992,"lo":-4,"hi":4},{"t":1994,"lo":-4,"hi":4},{"t":1996,"lo":-115,"hi":110},{"t":1998,"lo":-4,"hi":4}
  ]},
  "layer": [
    {
      "mark": {"type": "rule", "color": "#007800", "strokeWidth": 1.4},
      "encoding": {
        "x": {
          "field": "t",
          "type": "quantitative",
          "scale": {"domain": [0, 2000], "nice": false, "zero": false},
          "axis": {
            "values": [0, 100, 200, 300, 400, 500, 600, 700, 800, 900, 1000, 1100, 1200, 1300, 1400, 1500, 1600, 1700, 1800, 1900],
            "labelExpr": "datum.value == 0 ? '0' : (datum.value < 1000 ? datum.value + 'm' : '' + datum.value / 1000)",
            "title": "[s]",
            "titleFontWeight": "normal",
            "titleFontSize": 11,
            "titleColor": "#000000",
            "titlePadding": 1,
            "grid": true,
            "gridColor": "#606060",
            "gridWidth": 1,
            "gridOpacity": 1,
            "domainColor": "#000000",
            "domainWidth": 1,
            "tickColor": "#000000",
            "tickSize": 5,
            "labelPadding": 3,
            "labelFontSize": 11,
            "labelColor": "#000000",
            "labelFlush": true,
            "labelOverlap": false,
            "zindex": 1
          }
        },
        "y": {
          "field": "lo",
          "type": "quantitative",
          "scale": {"domain": [-400, 400], "nice": false},
          "axis": {
            "values": [-400, -350, -300, -250, -200, -150, -100, -50, 0, 50, 100, 150, 200, 250, 300, 350, 400],
            "labelExpr": "datum.value == 0 ? '0' : datum.value + 'm'",
            "title": "[Pa]",
            "titleAngle": 0,
            "titleAlign": "left",
            "titleBaseline": "middle",
            "titleX": -42,
            "titleY": -25,
            "titleFontWeight": "normal",
            "titleFontSize": 11,
            "titleColor": "#000000",
            "grid": true,
            "gridColor": "#a0a0a0",
            "gridWidth": 1.5,
            "gridOpacity": {"condition": {"test": "datum.value == 400", "value": 0}, "value": 1},
            "domainColor": "#0000ff",
            "domainWidth": 1.2,
            "tickColor": "#000000",
            "tickSize": 6,
            "labelPadding": 3,
            "labelFontSize": 11,
            "labelColor": "#000000",
            "labelFlush": true,
            "labelOverlap": false,
            "zindex": 1
          }
        },
        "y2": {"field": "hi"}
      }
    },
    {
      "data": {"values": [{"level": -74}]},
      "mark": {"type": "rule", "color": "#5050ff", "strokeWidth": 1},
      "encoding": {"y": {"field": "level", "type": "quantitative", "axis": null}}
    }
  ]
}
